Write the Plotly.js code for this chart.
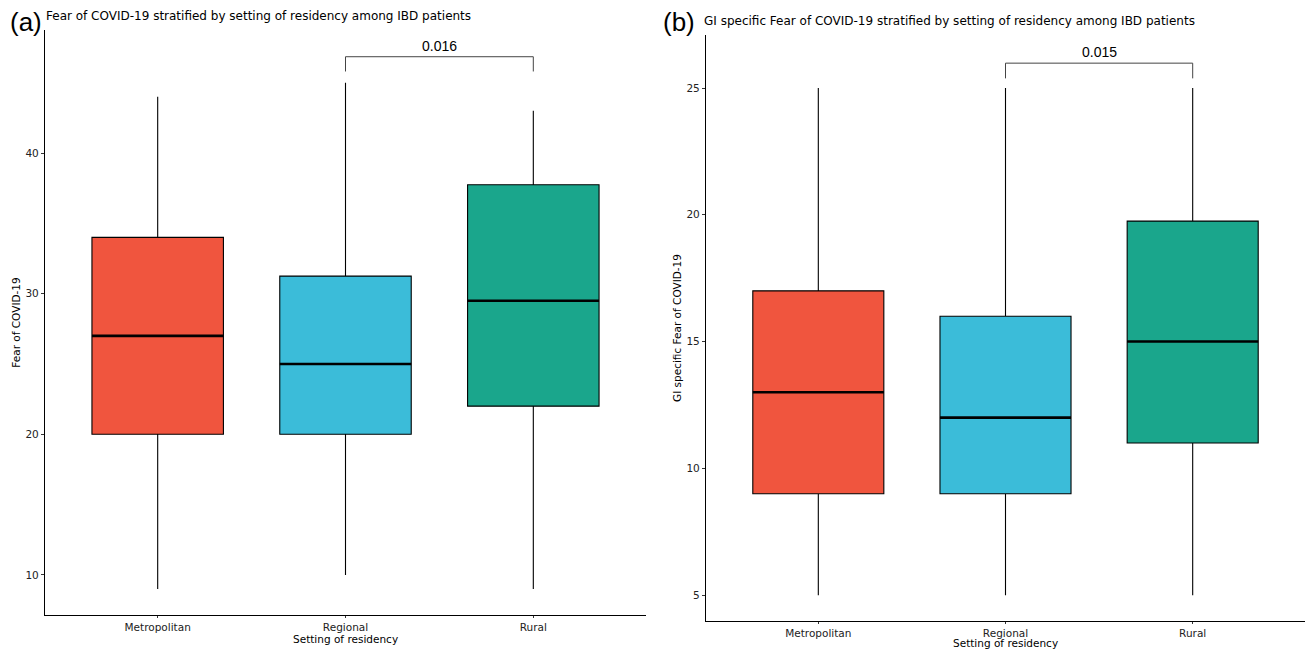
<!DOCTYPE html>
<html>
<head>
<meta charset="utf-8">
<script src="https://cdn.plot.ly/plotly-3.0.1.min.js"></script>
<style>html,body{margin:0;padding:0;background:#fff;}#chart{width:1306px;height:650px;}</style>
</head>
<body>
<div id="chart"></div>
<script>
// Data
const categories = ["Metropolitan", "Regional", "Rural"];
const colors = ["#F0553E", "#3BBCD9", "#1AA68C"];

// Panel (a): Fear of COVID-19
const fearMin = [9, 10, 9];
const fearQ1 = [20, 20, 22];
const fearMedian = [27, 25, 29.5];
const fearQ3 = [34, 31.25, 37.75];
const fearMax = [44, 45, 43];
const fearP = "0.016";
const fearBracketY = 46.85;

// Panel (b): GI specific Fear of COVID-19
const giMin = [5, 5, 5];
const giQ1 = [9, 9, 11];
const giMedian = [13, 12, 15];
const giQ3 = [17, 16, 19.75];
const giMax = [25, 25, 25];
const giP = "0.015";
const giBracketY = 25.98;

const W = 1306, H = 650;
const boxW = 0.7;
const FONT = "DejaVu Sans, Verdana, sans-serif";

function boxTraces(mins, q1, med, q3, maxs, xa, ya) {
  return categories.map((c, i) => ({
    type: "box",
    x: [c],
    lowerfence: [mins[i]], q1: [q1[i]], median: [med[i]], q3: [q3[i]], upperfence: [maxs[i]],
    width: boxW,
    whiskerwidth: 0,
    fillcolor: colors[i],
    line: {color: "#000", width: 1.1},
    xaxis: xa, yaxis: ya,
    hoverinfo: "skip",
    showlegend: false
  }));
}

const traces = [].concat(
  boxTraces(fearMin, fearQ1, fearMedian, fearQ3, fearMax, "x", "y"),
  boxTraces(giMin, giQ1, giMedian, giQ3, giMax, "x2", "y2")
);

const shapes = [];
function medianShapes(med, xr, yr) {
  med.forEach((m, i) => {
    shapes.push({type: "line", xref: xr, yref: yr, x0: i - boxW / 2, x1: i + boxW / 2, y0: m, y1: m,
      line: {color: "#000", width: 2.6}});
  });
}
medianShapes(fearMedian, "x", "y");
medianShapes(giMedian, "x2", "y2");

function bracket(xr, yr, y, drop) {
  const lc = {color: "#444", width: 1};
  shapes.push({type: "line", xref: xr, yref: yr, x0: 1, x1: 2, y0: y, y1: y, line: lc});
  shapes.push({type: "line", xref: xr, yref: yr, x0: 1, x1: 1, y0: y, y1: y - drop, line: lc});
  shapes.push({type: "line", xref: xr, yref: yr, x0: 2, x1: 2, y0: y, y1: y - drop, line: lc});
}
bracket("x", "y", fearBracketY, 1.05);
bracket("x2", "y2", giBracketY, 0.6);

const labelFont = {family: FONT, size: 10.5, color: "#000"};
const annotations = [
  {text: "(a)", x: 8 / W, y: 1 - 22 / H, xref: "paper", yref: "paper", xanchor: "left", yanchor: "middle",
   showarrow: false, font: {family: "Liberation Sans, Arial, sans-serif", size: 26, color: "#000"}},
  {text: "Fear of COVID-19 stratified by setting of residency among IBD patients", x: 44 / W, y: 1 - 16 / H,
   xref: "paper", yref: "paper", xanchor: "left", yanchor: "middle", showarrow: false,
   font: {family: FONT, size: 12, color: "#000"}},
  {text: "(b)", x: 661 / W, y: 1 - 22 / H, xref: "paper", yref: "paper", xanchor: "left", yanchor: "middle",
   showarrow: false, font: {family: "Liberation Sans, Arial, sans-serif", size: 26, color: "#000"}},
  {text: "GI specific Fear of COVID-19 stratified by setting of residency among IBD patients", x: 702 / W, y: 1 - 21 / H,
   xref: "paper", yref: "paper", xanchor: "left", yanchor: "middle", showarrow: false,
   font: {family: FONT, size: 12, color: "#000"}},
  {text: fearP, x: 1.5, y: fearBracketY, xref: "x", yref: "y", yanchor: "bottom", yshift: 1, showarrow: false,
   font: {family: "Liberation Sans, Arial, sans-serif", size: 14, color: "#000"}},
  {text: giP, x: 1.5, y: giBracketY, xref: "x2", yref: "y2", yanchor: "bottom", yshift: 1, showarrow: false,
   font: {family: "Liberation Sans, Arial, sans-serif", size: 14, color: "#000"}},
  {text: "Setting of residency", x: 1, y: 1 - 639 / H, xref: "x", yref: "paper", xanchor: "center", yanchor: "middle",
   showarrow: false, font: labelFont},
  {text: "Setting of residency", x: 1, y: 0, xref: "x2", yref: "paper", xanchor: "center", yanchor: "bottom",
   showarrow: false, font: labelFont, borderpad: 0}
];

function xaxis(domain, anchor) {
  return {
    domain: domain, anchor: anchor, type: "category", range: [-0.6, 2.6],
    showline: true, linecolor: "#000", linewidth: 1.1, ticks: "outside", ticklen: 2, tickcolor: "#333",
    showgrid: false, zeroline: false, fixedrange: true,
    tickfont: {family: FONT, size: 10.5, color: "#222"}
  };
}
function yaxis(domain, anchor, range, dtick, title) {
  return {
    domain: domain, anchor: anchor, range: range, dtick: dtick, tick0: 0,
    showline: true, linecolor: "#000", linewidth: 1.1, ticks: "outside", ticklen: 3, tickcolor: "#333",
    showgrid: false, zeroline: false, fixedrange: true,
    tickfont: {family: FONT, size: 10.5, color: "#222"},
    title: {text: title, font: labelFont, standoff: 2}
  };
}

const layout = {
  width: W, height: H,
  margin: {l: 0, r: 0, t: 0, b: 0},
  paper_bgcolor: "#fff", plot_bgcolor: "#fff",
  showlegend: false,
  xaxis: xaxis([45 / W, 646 / W], "y"),
  yaxis: yaxis([1 - 615 / H, 1 - 30 / H], "x", [7.15, 48.75], 10, "Fear of COVID-19"),
  xaxis2: xaxis([706 / W, 1305 / W], "y2"),
  yaxis2: yaxis([1 - 621 / H, 1 - 35 / H], "x2", [3.98, 27.09], 5, "GI specific Fear of COVID-19"),
  shapes: shapes,
  annotations: annotations
};

Plotly.newPlot("chart", traces, layout, {displayModeBar: false, staticPlot: true});
</script>
</body>
</html>
